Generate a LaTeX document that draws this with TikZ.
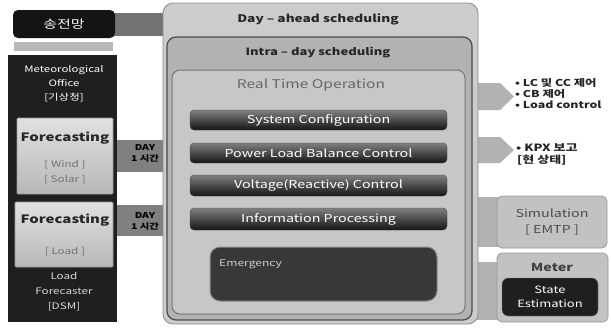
\documentclass[tikz,border=0pt]{standalone}
\usepackage{fontspec}
\setmainfont{Noto Sans CJK KR}[FakeStretch=1.3]
\usetikzlibrary{calc}

\tikzset{
  fs/.style={font=\fontsize{#1}{#1}\selectfont},
  fsb/.style={font=\bfseries\fontsize{#1}{#1}\selectfont},
  schedbox/.style={rounded corners=#1, draw=black!45, line width=0.8pt},
  darkbar/.style={rounded corners=4pt, top color=black!50, bottom color=black!92,
    draw=black!70, text=white, font=\fontsize{11}{11}\selectfont, inner sep=0pt},
  lightbox/.style={rounded corners=5pt, draw=black!40, line width=0.7pt},
  tab/.style={fill=black!30},
  bullet/.style={anchor=west, inner sep=0pt, font=\fontsize{9.5}{9.5}\selectfont\bfseries, text=black!85},
}

\begin{document}
\begin{tikzpicture}[x=1pt,y=-1pt]
\useasboundingbox (0,0) rectangle (611,327);
\fill[white] (0,0) rectangle (611,327);

% ---- tabs behind the boxes ----
\fill[black!55] (100,13) rectangle (170,36);
\fill[tab] (455,83) -- (500,83) -- (514,96.5) -- (500,110) -- (455,110) -- cycle;
\fill[tab] (455,137) -- (500,137) -- (514,150) -- (500,163) -- (455,163) -- cycle;
\fill[tab] (455,197) rectangle (505,247);
\fill[tab] (455,262) rectangle (505,320);
\fill[black!50] (110,140) rectangle (172,172);
\fill[black!50] (110,205) rectangle (172,236);

% ---- left column ----
\node[fill=black!92, rounded corners=5pt, minimum width=102pt, minimum height=28pt,
      inner sep=0pt, text=white, fs=11.5] (grid) at (64,24) {송전망};
\fill[black!28] (14,42) rectangle (113,51);
\node[fill=black!88, minimum width=109pt, minimum height=267pt, inner sep=0pt] (col) at (62.5,188.5) {};
\node[text=white, align=center, font=\fontsize{8.8}{14}\selectfont, inner sep=0pt] (met) at (64,84)
  {Meteorological\\Office\\{[}기상청{]}};
\node[lightbox, rounded corners=1pt, top color=black!12, bottom color=black!28,
      minimum width=96pt, minimum height=76pt, inner sep=0pt] (fc1) at (65,156) {};
\node[fsb=11.5, text=black!85] (fc1t) at (65,138) {Forecasting};
\node[font=\fontsize{9}{15}\selectfont, text=black!55, align=center] (fc1s) at (65,172) {{[} Wind {]}\\{[} Solar {]}};
\node[lightbox, rounded corners=1pt, top color=black!12, bottom color=black!28,
      minimum width=98pt, minimum height=65pt, inner sep=0pt] (fc2) at (64,234.5) {};
\node[fsb=11.5, text=black!85] (fc2t) at (65,220) {Forecasting};
\node[fs=9, text=black!55] (fc2s) at (65,252) {{[} Load {]}};
\node[text=black!15, align=center, font=\fontsize{9}{15}\selectfont, inner sep=0pt] (dsm) at (64,292)
  {Load\\Forecaster\\{[}DSM{]}};

% DAY labels on the links
\node[font=\bfseries\fontsize{8}{11}\selectfont, align=center, inner sep=0pt] (day1) at (145,153) {DAY\\1 시간};
\node[font=\bfseries\fontsize{8}{11}\selectfont, align=center, inner sep=0pt] (day2) at (145,221) {DAY\\1 시간};

% ---- nested scheduling boxes ----
\draw[schedbox=10pt, fill=black!20] (163,3) rectangle (478,324);
\node[fsb=10.5, text=black!85] (dah) at (318,19) {Day -- ahead scheduling};
\draw[schedbox=9pt, fill=black!30, draw=black!70, line width=1.2pt] (167,37) rectangle (472,320);
\node[fsb=10, text=black!85] (intra) at (318,53) {Intra -- day scheduling};
\draw[schedbox=8pt, fill=black!22, draw=black!55, line width=1pt] (172,70) rectangle (465,314);
\node[fs=12, text=black!60] (rto) at (311,85) {Real Time Operation};

\node[darkbar, minimum width=257pt, minimum height=20pt] (sc)  at (318.5,120) {System Configuration};
\node[darkbar, minimum width=257pt, minimum height=20pt] (plb) at (318.5,153) {Power Load Balance Control};
\node[darkbar, minimum width=257pt, minimum height=21pt] (vrc) at (318.5,185.5) {Voltage(Reactive) Control};
\node[darkbar, minimum width=257pt, minimum height=22pt] (ip)  at (318.5,219) {Information Processing};
\node[rounded corners=10pt, fill=black!78, draw=black!45, line width=1pt,
      minimum width=227pt, minimum height=54pt, inner sep=0pt] (em) at (323.5,274) {};
\node[anchor=west, fs=9.3, text=black!20, inner sep=0pt] (emt) at (219,264) {Emergency};

% ---- right side ----
\node[bullet] (b1) at (515,83) {• LC 및 CC 제어};
\node[bullet] (b2) at (515,94) {• CB 제어};
\node[bullet] (b3) at (515,104.5) {• Load control};
\node[bullet, font=\fontsize{10}{10}\selectfont\bfseries] (k1) at (516,148) {• KPX 보고};
\node[bullet, font=\fontsize{10}{10}\selectfont\bfseries] (k2) at (517,160) {{[}현 상태{]}};

\node[lightbox, fill=black!24, minimum width=110pt, minimum height=52pt, inner sep=0pt] (sim) at (552,222) {};
\node[font=\fontsize{11}{16}\selectfont, text=black!70, align=center] (simt) at (552,222) {Simulation\\{[} EMTP {]}};
\node[lightbox, fill=black!24, minimum width=111pt, minimum height=69pt, inner sep=0pt] (meter) at (552.5,287.5) {};
\node[fsb=11, text=black!75] (metert) at (552,267) {Meter};
\node[rounded corners=6pt, fill=black!88, draw=black!50, minimum width=96pt, minimum height=38pt,
      text=white, align=center, font=\fontsize{10}{14}\selectfont, inner sep=0pt] (se) at (550,297) {State\\Estimation};
\end{tikzpicture}
\end{document}
